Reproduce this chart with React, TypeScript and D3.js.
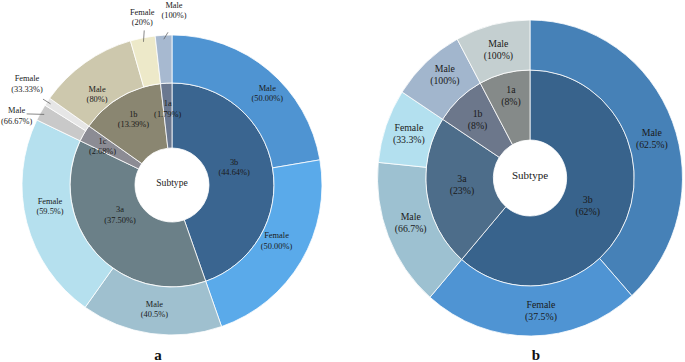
import React from "react";
import * as d3 from "d3";

// panel a
const subtypesA = ["3b", "3a", "1c", "1b", "1a"];
const subtypePctA = [44.64, 37.5, 2.68, 13.39, 1.79];
const subtypeTextA = ["44.64%", "37.50%", "2.68%", "13.39%", "1.79%"];
const sexA = [["Male", "Female"], ["Male", "Female"], ["Male", "Female"], ["Male", "Female"], ["Male"]];
const sexPctA = [[50, 50], [40.5, 59.5], [66.67, 33.33], [80, 20], [100]];
const sexTextA = [["50.00%", "50.00%"], ["40.5%", "59.5%"], ["66.67%", "33.33%"], ["80%", "20%"], ["100%"]];

// panel b
const subtypesB = ["3b", "3a", "1b", "1a"];
const subtypePctB = [62, 23, 8, 8];
const subtypeTextB = ["62%", "23%", "8%", "8%"];
const sexB = [["Male", "Female"], ["Male", "Female"], ["Male"], ["Male"]];
const sexPctB = [[62.5, 37.5], [66.7, 33.3], [100], [100]];
const sexTextB = [["62.5%", "37.5%"], ["66.7%", "33.3%"], ["100%"], ["100%"]];

const innerColorsA = ["#3a6590", "#6b8088", "#8c8c94", "#8a8671", "#6a7890"];
const outerColorsA = [["#4f94d2", "#5aaaea"], ["#9fc0cf", "#b5e0ee"], ["#c9c9c9", "#e6e6e6"], ["#cdc8ad", "#ede9c9"], ["#a7b9d0"]];
const innerColorsB = ["#38638c", "#4d6d8a", "#6c778b", "#858a89"];
const outerColorsB = [["#4681b7", "#4f94d3"], ["#9dc1d1", "#b3e0ef"], ["#a2b6cd"], ["#c4cfd0"]];

type Nudge = { dx: number; dy: number; lx?: number; ly?: number };

// label layout tweaks (key: "in-i" or "out-i-j"); lx/ly => outside label with leader
const nudgeA: Record<string, Nudge> = {
  "in-0": { dx: 0, dy: -7 },
  "in-1": { dx: -5, dy: -12 },
  "in-2": { dx: -4, dy: 0 },
  "out-0-0": { dx: 14, dy: 5 },
  "out-0-1": { dx: -4, dy: -8 },
  "out-1-1": { dx: 0, dy: -10 },
  "out-2-0": { dx: 0.5, dy: 17, lx: 10, ly: -2 },
  "out-2-1": { dx: 3, dy: -2, lx: 16, ly: 15 },
  "out-3-0": { dx: -2, dy: 12 },
  "out-3-1": { dx: 5, dy: 7, lx: 2, ly: 13 },
  "out-4-0": { dx: 12, dy: 3, lx: -6, ly: 22 },
};
const nudgeB: Record<string, Nudge> = {
  "in-0": { dx: -2, dy: 4 },
  "in-1": { dx: -5, dy: -3 },
  "in-3": { dx: 0, dy: -5 },
  "out-0-0": { dx: 2, dy: 8 },
  "out-0-1": { dx: 10, dy: 0 },
  "out-1-0": { dx: 0, dy: -5 },
  "out-2-0": { dx: 2, dy: -6 },
};

interface Props {
  cx: number; cy: number; sx: number;
  r0: number; r1: number; r2: number;
  fontSize: number; lineGap: number; centerSize: number;
  subtypes: string[]; pct: number[]; pctText: string[];
  sex: string[][]; sexPct: number[][]; sexText: string[][];
  innerColors: string[]; outerColors: string[][];
  nudge: Record<string, Nudge>;
  tag: string; tagX: number;
}

function Sunburst(p: Props) {
  const pie = d3.pie<number>().sort(null).value((d) => d);
  const inner = pie(p.pct);
  const arcIn = d3.arc<any>().innerRadius(p.r0).outerRadius(p.r1);
  const arcOut = d3.arc<any>().innerRadius(p.r1).outerRadius(p.r2);

  const outer = inner.flatMap((s, i) => {
    const ang = d3.scaleLinear().domain([0, d3.sum(p.sexPct[i])]).range([s.startAngle, s.endAngle]);
    const cum = d3.cumsum(p.sexPct[i]);
    return p.sexPct[i].map((v, j) => ({
      i, j, startAngle: ang(cum[j] - v), endAngle: ang(cum[j]),
    }));
  });

  const pt = (a: number, r: number) => [p.cx + p.sx * r * Math.sin(a), p.cy - r * Math.cos(a)];

  const label = (key: string, x: number, y: number, l1: string, l2: string) => (
    <text key={key} textAnchor="middle" fontSize={p.fontSize} fill="#1a1a1a">
      <tspan x={x} y={y - p.lineGap / 2} dominantBaseline="central">{l1}</tspan>
      <tspan x={x} y={y + p.lineGap / 2} dominantBaseline="central">{l2}</tspan>
    </text>
  );

  return (
    <g fontFamily="'Liberation Serif', 'Times New Roman', serif">
      <g transform={`translate(${p.cx},${p.cy}) scale(${p.sx},1)`}>
        {inner.map((s, i) => (
          <path key={"i" + i} d={arcIn(s) as string} fill={p.innerColors[i]} stroke="#fff" strokeWidth={0.8} />
        ))}
        {outer.map((s) => (
          <path key={`o${s.i}-${s.j}`} d={arcOut(s) as string} fill={p.outerColors[s.i][s.j]} stroke="#fff" strokeWidth={0.8} />
        ))}
      </g>
      {inner.map((s, i) => {
        const mid = (s.startAngle + s.endAngle) / 2;
        const frac = s.endAngle - s.startAngle > 1.2 ? 0.4 : 0.6;
        const [x, y] = pt(mid, p.r0 + (p.r1 - p.r0) * frac);
        const n = p.nudge["in-" + i] || { dx: 0, dy: 0 };
        return label("li" + i, x + n.dx, y + n.dy, p.subtypes[i], `(${p.pctText[i]})`);
      })}
      {outer.map((s) => {
        const key = `out-${s.i}-${s.j}`;
        const n = p.nudge[key] || { dx: 0, dy: 0 };
        const mid = (s.startAngle + s.endAngle) / 2;
        const outside = n.lx !== undefined;
        const [x0, y0] = pt(mid, outside ? p.r2 + 28 : (p.r1 + p.r2) / 2);
        const x = x0 + n.dx;
        const y = y0 + n.dy;
        const [ax, ay] = pt(mid, p.r2 - 4);
        return (
          <g key={key}>
            {outside && (
              <line x1={ax} y1={ay} x2={x + (n.lx as number)} y2={y + (n.ly as number)} stroke="#555" strokeWidth={0.7} />
            )}
            {label("t" + key, x, y, p.sex[s.i][s.j], `(${p.sexText[s.i][s.j]})`)}
          </g>
        );
      })}
      <text x={p.cx} y={p.cy - 3} textAnchor="middle" dominantBaseline="central" fontSize={p.centerSize} fill="#1a1a1a">
        Subtype
      </text>
      <text x={p.tagX} y={360} textAnchor="middle" fontSize={15} fontWeight="bold" fill="#111">
        {p.tag}
      </text>
    </g>
  );
}

export default function App() {
  return (
    <svg width={685} height={362} style={{ position: "absolute", left: 0, top: 0, background: "#fff" }}>
      <Sunburst
        cx={172} cy={185} sx={1} r0={37} r1={102} r2={150}
        fontSize={8.4} lineGap={10.4} centerSize={9.6}
        subtypes={subtypesA} pct={subtypePctA} pctText={subtypeTextA}
        sex={sexA} sexPct={sexPctA} sexText={sexTextA}
        innerColors={innerColorsA} outerColors={outerColorsA}
        nudge={nudgeA} tag="a" tagX={158}
      />
      <Sunburst
        cx={530} cy={178} sx={0.965} r0={38} r1={108} r2={158}
        fontSize={9.8} lineGap={12} centerSize={11}
        subtypes={subtypesB} pct={subtypePctB} pctText={subtypeTextB}
        sex={sexB} sexPct={sexPctB} sexText={sexTextB}
        innerColors={innerColorsB} outerColors={outerColorsB}
        nudge={nudgeB} tag="b" tagX={536}
      />
    </svg>
  );
}
